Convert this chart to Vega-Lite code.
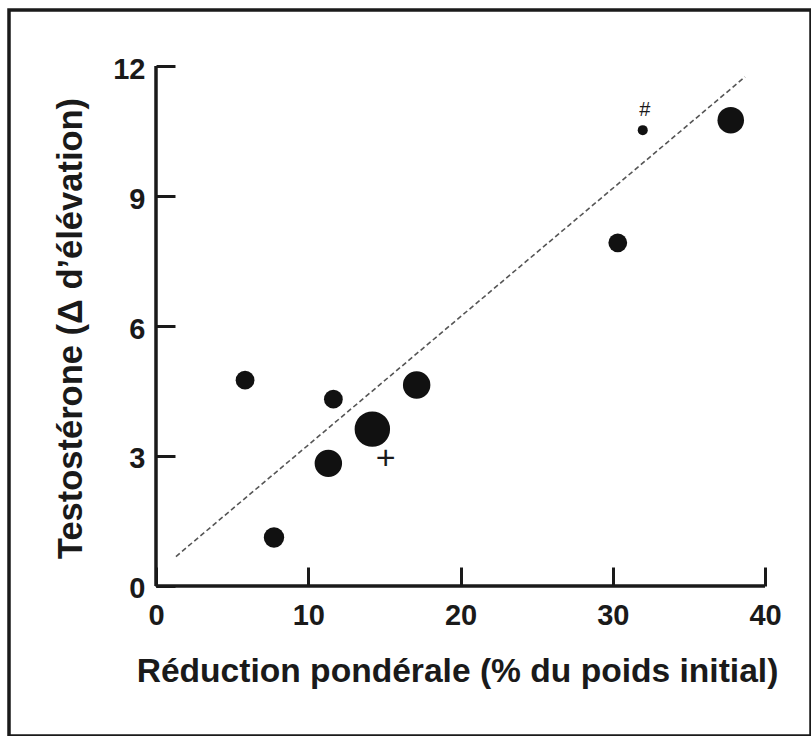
{
  "$schema": "https://vega.github.io/schema/vega-lite/v6.json",
  "width": 802,
  "height": 726,
  "autosize": {"type": "none"},
  "padding": {"left": 9, "top": 10, "right": 0, "bottom": 0},
  "background": "white",
  "config": {
    "view": {"stroke": "#1a1a1a", "strokeWidth": 3.5},
    "font": "Liberation Sans"
  },
  "datasets": {
    "points": [
      {"x": 5.85, "y": 4.75, "n": 28},
      {"x": 7.75, "y": 1.12, "n": 33},
      {"x": 11.32, "y": 2.83, "n": 60},
      {"x": 11.65, "y": 4.31, "n": 28},
      {"x": 14.21, "y": 3.62, "n": 100},
      {"x": 17.12, "y": 4.64, "n": 60},
      {"x": 30.33, "y": 7.92, "n": 28},
      {"x": 31.97, "y": 10.52, "n": 8},
      {"x": 37.75, "y": 10.75, "n": 56}
    ],
    "trend": [
      {"x": 1.31, "y": 0.68, "xEnd": 38.69, "yEnd": 11.75}
    ],
    "axes": [
      {"x": 0, "xEnd": 40, "y": 0, "yEnd": 0},
      {"x": 0, "xEnd": 0, "y": 0, "yEnd": 12}
    ],
    "marks": [
      {"x": 32.1, "y": 10.99, "label": "#", "kind": "hash"},
      {"x": 15.09, "y": 2.92, "label": "+", "kind": "plus"}
    ]
  },
  "encoding": {
    "x": {
      "field": "x", "type": "quantitative",
      "scale": {"domain": [-9.655, 43.021], "nice": false, "zero": false},
      "axis": {
        "orient": "bottom",
        "offset": -150,
        "domain": false,
        "grid": false,
        "values": [0, 10, 20, 30, 40],
        "tickSize": -19,
        "tickWidth": 3,
        "tickColor": "#1a1a1a",
        "labelPadding": 34,
        "labelFont": "Liberation Sans",
        "labelFontSize": 29,
        "labelFontWeight": "bold",
        "labelColor": "#1a1a1a",
        "labelFlush": false,
        "labelOverlap": false,
        "title": "Réduction pondérale (% du poids initial)",
        "titleFont": "Liberation Sans",
        "titleFontSize": 33.6,
        "titleFontWeight": "bold",
        "titleColor": "#1a1a1a",
        "titlePadding": 24,
        "titleX": 448
      }
    },
    "y": {
      "field": "y", "type": "quantitative",
      "scale": {"domain": [-3.462, 13.293], "nice": false, "zero": false},
      "axis": {
        "orient": "left",
        "offset": -147,
        "domain": false,
        "grid": false,
        "values": [0, 3, 6, 9, 12],
        "tickSize": -19,
        "tickWidth": 3,
        "tickColor": "#1a1a1a",
        "labelPadding": 30,
        "labelOffset": 3,
        "labelFont": "Liberation Sans",
        "labelFontSize": 29,
        "labelFontWeight": "bold",
        "labelColor": "#1a1a1a",
        "labelFlush": false,
        "labelOverlap": false,
        "title": "Testostérone (Δ d’élévation)",
        "titleFont": "Liberation Sans",
        "titleFontSize": 34.5,
        "titleFontWeight": "bold",
        "titleColor": "#1a1a1a",
        "titlePadding": 24,
        "titleY": 318
      }
    }
  },
  "layer": [
    {
      "data": {"name": "axes"},
      "mark": {"type": "rule", "color": "#1a1a1a", "strokeWidth": 3.5},
      "encoding": {
        "x2": {"field": "xEnd"},
        "y2": {"field": "yEnd"}
      }
    },
    {
      "data": {"name": "trend"},
      "mark": {"type": "rule", "color": "#555555", "strokeWidth": 1.6, "strokeDash": [5, 3]},
      "encoding": {
        "x2": {"field": "xEnd"},
        "y2": {"field": "yEnd"}
      }
    },
    {
      "data": {"name": "points"},
      "mark": {"type": "circle", "color": "#111111", "opacity": 1},
      "encoding": {
        "size": {"field": "n", "type": "quantitative", "scale": {"domain": [0, 100], "range": [0, 1257], "zero": true}, "legend": null}
      }
    },
    {
      "data": {"name": "marks"},
      "mark": {"type": "text", "color": "#1a1a1a", "align": "center", "baseline": "middle", "font": "Liberation Sans"},
      "encoding": {
        "text": {"field": "label"},
        "size": {"condition": {"test": "datum.kind === 'plus'", "value": 34}, "value": 20},
        "fontWeight": {"condition": {"test": "datum.kind === 'plus'", "value": "bold"}, "value": "normal"}
      }
    }
  ]
}
